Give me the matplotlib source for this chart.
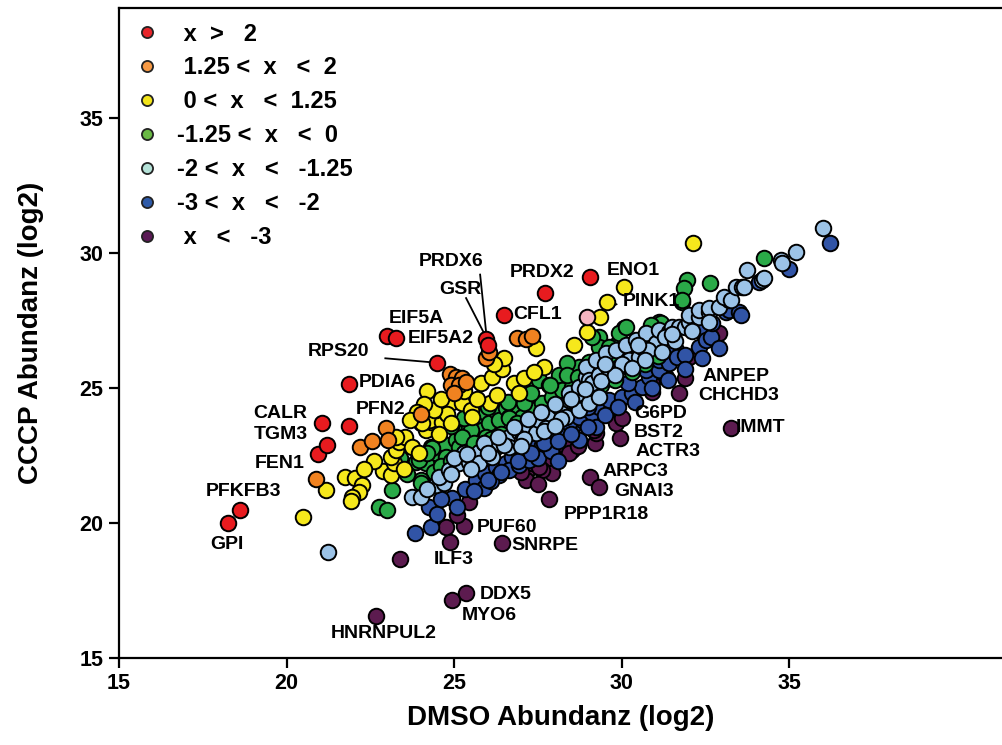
import matplotlib
matplotlib.use("Agg")
import matplotlib.pyplot as plt
from matplotlib.lines import Line2D

plt.rcParams['font.family'] = ['Liberation Sans', 'DejaVu Sans']
plt.rcParams['font.weight'] = 'bold'

# ---------------- data (DMSO log2, CCCP log2) ----------------
red_x = [18.25, 18.6, 20.95, 21.2, 21.05, 21.87, 21.87, 23.0, 23.26, 24.49, 25.95, 26.01, 26.49, 27.72, 29.05]
red_y = [20.0, 20.5, 22.55, 22.9, 23.7, 23.6, 25.15, 26.93, 26.85, 25.93, 26.81, 26.6, 27.7, 28.53, 29.12]

pink_x = [28.97]
pink_y = [27.64]

orange_x = [20.87, 22.19, 22.56, 22.96, 23.04, 24.01, 25.96, 26.04, 26.88, 27.15, 27.33,
            24.87, 25.05, 25.23, 24.9, 25.15, 25.35, 25.0]
orange_y = [21.63, 22.83, 23.05, 23.53, 23.07, 24.03, 26.1, 26.34, 26.85, 26.81, 26.93,
            25.52, 25.42, 25.36, 25.11, 25.11, 25.23, 24.8]

yellow_x = [20.49, 21.17, 21.75, 22.04, 22.24, 22.16, 21.96, 21.92, 22.89, 23.11, 23.21, 23.13,
            23.26, 23.36, 23.54, 23.76, 24.01, 24.16, 24.3, 23.96, 23.28, 24.27, 24.05, 24.63,
            24.95, 25.25, 25.5, 25.55, 25.8, 26.14, 26.44, 26.07, 26.29, 26.79, 26.94, 27.44,
            28.58, 27.69, 28.98, 29.36, 29.57, 30.07, 32.13, 27.09, 24.45, 24.8,
            24.4, 24.6, 24.2, 24.55, 24.9, 25.3, 25.7, 24.1, 23.9, 23.7, 22.6, 22.3, 23.5,
            26.5, 27.4, 26.2]
yellow_y = [20.23, 21.22, 21.71, 21.66, 21.41, 21.16, 20.97, 20.81, 21.94, 21.78, 22.21, 22.46,
            22.7, 23.01, 23.2, 22.83, 23.69, 23.44, 23.75, 22.58, 23.2, 23.81, 23.69, 23.75,
            24.49, 24.43, 24.19, 23.94, 25.2, 25.42, 25.69, 24.43, 24.74, 25.17, 24.8, 26.47,
            26.59, 25.79, 27.09, 27.64, 28.2, 28.75, 30.38, 25.36, 24.2, 24.05,
            24.2, 24.6, 24.9, 23.3, 23.7, 24.9, 24.6, 24.4, 24.1, 23.8, 22.3, 22.0, 22.0,
            26.1, 25.6, 25.9]

green_x = [23.14, 22.76, 23.01, 23.86, 24.16, 24.3, 24.4, 23.96, 24.45, 24.55, 24.75, 24.35,
           24.75, 25.05, 25.15, 25.25, 25.45, 25.55, 25.75, 25.85, 25.95, 26.04, 26.24, 26.34,
           26.54, 26.64, 26.74, 26.94, 26.94, 27.14, 27.24, 27.34, 27.34, 27.54, 27.64, 27.84,
           27.94, 28.13, 28.23, 28.43, 28.53, 28.73, 28.83, 29.03, 29.18, 25.75, 26.24, 26.74,
           27.04, 27.09, 25.5, 25.25, 25.95, 26.64, 26.89, 28.38, 28.38, 28.93, 27.88, 29.33,
           29.33, 29.83, 30.07, 30.87, 31.12, 29.93, 30.13, 29.13, 29.63, 31.81, 31.96, 31.87,
           31.8, 32.63, 34.25, 31.17, 30.87, 24.0, 24.6, 25.6,
           24.9, 25.3, 25.6, 26.1, 26.4, 26.9, 27.2, 27.6, 28.0, 28.4, 28.9, 29.4, 29.8, 30.3,
           30.7, 31.1, 29.6, 30.2, 30.6, 29.9, 28.7, 27.3, 26.6, 26.0, 25.3, 24.9, 24.2, 23.6,
           23.4, 24.0]
green_y = [21.22, 20.6, 20.48, 22.27, 22.21, 22.83, 21.9, 22.33, 22.58, 22.95, 22.89, 22.77,
           22.46, 23.07, 22.83, 23.32, 23.51, 23.2, 23.81, 23.44, 24.06, 23.69, 24.13, 23.81,
           24.25, 23.94, 24.43, 24.12, 24.86, 24.68, 25.05, 24.49, 24.19, 25.3, 24.43, 25.11,
           24.68, 25.48, 24.93, 25.67, 25.05, 25.79, 25.3, 25.97, 25.67, 22.7, 22.83, 22.95,
           23.94, 24.43, 23.44, 23.2, 23.2, 23.88, 23.69, 25.91, 25.48, 25.6, 25.11, 26.9,
           26.53, 26.59, 27.21, 27.15, 27.46, 27.03, 27.27, 26.9, 26.53, 28.2, 29.0, 28.69,
           28.26, 28.88, 29.8, 27.4, 27.33, 21.6, 22.1, 22.4,
           22.3, 22.6, 22.95, 23.1, 23.3, 23.5, 23.75, 24.0, 24.25, 24.5, 24.8, 25.1, 25.3, 25.6,
           25.9, 26.2, 25.6, 26.1, 26.5, 26.2, 25.4, 24.8, 24.5, 24.3, 23.9, 23.6, 22.6, 21.8,
           22.4, 21.5]

lightblue_x = [21.25, 23.76, 24.0, 24.45, 24.7, 24.55, 24.85, 25.15, 25.45, 25.75, 25.75, 26.04,
               26.14, 26.34, 26.64, 26.64, 26.94, 27.04, 27.24, 27.44, 27.54, 27.74, 27.84, 28.13,
               28.33, 28.43, 28.43, 28.73, 28.73, 28.73, 28.93, 28.93, 29.03, 29.03, 29.13, 29.23,
               29.33, 29.33, 29.53, 29.63, 29.83, 29.93, 30.13, 30.22, 30.42, 30.52, 30.62, 30.72,
               31.02, 31.12, 31.42, 31.52, 31.72, 31.91, 32.01, 32.01, 32.31, 32.31, 32.61, 32.61,
               32.91, 33.21, 33.06, 33.26, 33.41, 33.61, 33.66, 33.76, 34.2, 34.25, 34.75, 34.8,
               35.22, 36.01, 25.3, 25.9, 26.5, 27.1, 27.7, 28.2, 30.0, 30.8, 31.3,
               25.0, 25.4, 25.9, 26.3, 26.8, 27.2, 27.6, 28.0, 28.5, 28.9, 29.4, 29.8, 30.3, 30.7,
               31.2, 31.6, 32.1, 32.6, 26.0, 27.0, 28.0, 29.5, 30.5, 31.5, 24.2, 24.9, 25.5]
lightblue_y = [18.94, 20.97, 20.97, 21.41, 21.47, 21.71, 21.96, 22.21, 22.27, 22.64, 22.21, 22.77,
               22.46, 22.95, 23.2, 22.83, 23.38, 23.07, 23.57, 23.32, 23.81, 23.51, 24.06, 24.31,
               23.94, 24.56, 24.8, 24.8, 25.05, 24.19, 25.42, 25.79, 25.3, 24.43, 25.17, 26.04,
               25.48, 24.68, 26.29, 25.67, 26.41, 25.79, 26.59, 26.04, 26.78, 26.16, 26.53, 27.02,
               26.66, 27.15, 27.09, 27.27, 27.27, 27.27, 27.46, 27.7, 27.64, 27.89, 27.83, 27.95,
               28.01, 28.26, 28.38, 28.26, 28.73, 28.73, 28.75, 29.37, 29.0, 29.06, 29.74, 29.62,
               30.05, 30.91, 22.6, 22.95, 22.9, 23.1, 23.4, 23.85, 25.9, 26.4, 26.9,
               22.4, 22.55, 22.95, 23.2, 23.55, 23.85, 24.1, 24.4, 24.6, 24.95, 25.25, 25.5, 25.75,
               26.05, 26.35, 26.75, 27.1, 27.45, 22.6, 22.85, 23.6, 25.9, 26.6, 27.0, 21.25, 21.8,
               22.0]

blue_x = [23.84, 24.25, 24.3, 24.49, 24.93, 25.33, 25.65, 25.94, 26.24, 26.54, 26.74, 27.04,
          27.34, 27.64, 27.94, 28.23, 28.53, 28.73, 28.83, 28.43, 28.73, 29.03, 29.13, 29.23,
          29.33, 29.23, 29.63, 30.02, 30.32, 30.62, 30.82, 30.72, 31.12, 31.12, 31.42, 31.62,
          31.66, 31.91, 32.31, 32.31, 32.51, 32.66, 32.71, 33.11, 33.21, 33.51, 33.56, 34.1,
          35.0, 36.21, 26.64, 26.94, 27.24, 26.34, 26.79, 25.9, 26.1, 27.5, 27.9, 28.1,
          25.6, 26.0, 26.4, 26.9, 27.3, 27.7, 28.1, 28.5, 29.0, 29.5, 29.9, 30.4, 30.9, 31.4,
          31.9, 32.4, 32.9, 27.0, 28.0, 29.0, 30.2, 25.1, 24.6]
blue_y = [19.64, 20.6, 19.86, 20.33, 20.93, 21.26, 21.59, 21.84, 22.09, 22.21, 22.46, 22.58,
          22.77, 22.89, 23.2, 23.32, 23.51, 23.07, 23.81, 23.69, 23.94, 24.19, 24.06, 23.57,
          24.31, 24.68, 24.56, 24.68, 24.8, 25.05, 25.42, 25.67, 25.67, 26.04, 25.91, 26.41,
          26.16, 26.22, 26.53, 27.15, 26.78, 26.9, 27.4, 27.83, 27.89, 27.83, 27.7, 28.94,
          29.4, 30.38, 21.96, 22.15, 22.33, 21.78, 22.89, 21.3, 21.55, 22.4, 22.65, 22.3,
          21.2, 21.6, 21.9, 22.3, 22.6, 22.95, 23.05, 23.3, 23.55, 24.0, 24.3, 24.5, 25.0, 25.3,
          25.7, 26.1, 26.5, 23.0, 23.6, 24.3, 25.2, 20.6, 20.9]

purple_x = [22.67, 24.94, 25.36, 24.88, 26.42, 25.3, 24.75, 25.08, 23.38, 27.84, 29.05, 29.34,
            25.45, 27.14, 27.33, 27.88, 28.33, 28.52, 28.13, 27.93, 27.63, 27.54, 27.14, 29.21,
            29.95, 29.23, 29.18, 29.83, 30.02, 29.72, 30.91, 30.91, 31.32, 31.91, 31.72, 33.26,
            32.01, 32.91, 28.33, 28.43, 27.5, 28.7, 27.0]
purple_y = [16.57, 17.15, 17.41, 19.3, 19.25, 19.89, 19.86, 20.3, 18.68, 20.89, 21.69, 21.33,
            20.78, 21.85, 22.22, 22.41, 22.64, 22.7, 22.96, 21.85, 21.96, 22.09, 21.59, 22.95,
            23.14, 23.34, 23.44, 23.69, 23.88, 24.31, 25.23, 24.86, 25.42, 25.36, 24.8, 23.52,
            26.16, 27.03, 22.83, 22.58, 21.45, 22.85, 21.9]

legend_labels = [" x  >   2", " 1.25 <  x   <  2", " 0 <  x   <  1.25", "-1.25 <  x   <  0",
                 "-2 <  x   <   -1.25", "-3 <  x   <   -2", " x   <   -3"]

# gene labels and text positions
gene_names = ["PRDX6", "GSR", "PRDX2", "ENO1", "PINK1", "CFL1", "EIF5A", "EIF5A2", "RPS20",
              "PDIA6", "PFN2", "CALR", "TGM3", "FEN1", "PFKFB3", "GPI", "ANPEP", "CHCHD3",
              "IMMT", "G6PD", "BST2", "ACTR3", "ARPC3", "GNAI3", "PPP1R18", "PUF60", "SNRPE",
              "ILF3", "DDX5", "MYO6", "HNRNPUL2"]
gene_text_x = [24.91, 25.18, 27.63, 30.34, 30.9, 27.5, 23.87, 24.6, 21.54, 23.02, 22.8, 19.81,
               19.84, 19.81, 18.73, 18.22, 33.42, 33.51, 34.16, 31.18, 31.12, 31.39, 30.43, 30.67,
               29.54, 26.58, 27.72, 25.0, 26.55, 26.04, 22.91]
gene_text_y = [29.67, 28.63, 29.26, 29.37, 28.19, 27.74, 27.59, 26.85, 26.37, 25.19, 24.19, 24.04,
               23.26, 22.22, 21.15, 19.22, 25.44, 24.74, 23.52, 24.07, 23.37, 22.63, 21.89, 21.15,
               20.33, 19.85, 19.15, 18.63, 17.37, 16.59, 15.89]

# ---------------- figure ----------------
W, H = 1002, 745
fig = plt.figure(figsize=(W / 100, H / 100), dpi=100)
ax = fig.add_axes([119 / W, (H - 658) / H, (W - 119) / W, 650 / H])
ax.set_xlim(15, 15 + (W - 119) / 33.5)
ax.set_ylim(15, 15 + 650 / 27)

edge = dict(edgecolor='black', linewidths=1.4, s=125)
ax.scatter(purple_x, purple_y, c='#5c1b4f', zorder=3, **edge)
ax.scatter(blue_x, blue_y, c='#3154a6', zorder=3, **edge)
ax.scatter(green_x, green_y, c='#2aaa48', zorder=3, **edge)
ax.scatter(lightblue_x, lightblue_y, c='#9cc3e7', zorder=3, **edge)
ax.scatter(yellow_x, yellow_y, c='#f6e81c', zorder=3, **edge)
ax.scatter(orange_x, orange_y, c='#f08220', zorder=3, **edge)
ax.scatter(red_x, red_y, c='#e81b1f', zorder=4, **edge)
ax.scatter(pink_x, pink_y, c='#f4b5c0', zorder=4, **edge)

for name, tx, ty in zip(gene_names, gene_text_x, gene_text_y):
    ax.text(tx, ty, name, fontsize=14, fontweight='bold', ha='center', va='center', zorder=5)

# connector lines
ax.plot([25.78, 25.96], [29.2, 27.05], color='black', lw=1.3, zorder=2)   # PRDX6
ax.plot([25.36, 25.93], [28.33, 26.95], color='black', lw=1.3, zorder=2)  # GSR
ax.plot([22.95, 24.35], [26.1, 25.95], color='black', lw=1.3, zorder=2)   # RPS20
ax.plot([29.1, 29.85], [27.7, 28.1], color='black', lw=1.3, zorder=2)     # PINK1

# axes styling
ax.spines['right'].set_visible(False)
for s in ['left', 'bottom', 'top']:
    ax.spines[s].set_linewidth(1.6)
ax.set_xticks([15, 20, 25, 30, 35])
ax.set_yticks([15, 20, 25, 30, 35])
ax.tick_params(direction='out', length=7, width=1.6, labelsize=15.5, pad=4)
for lab in ax.get_xticklabels() + ax.get_yticklabels():
    lab.set_fontweight('bold')
ax.set_xlabel('DMSO Abundanz (log2)', fontsize=20, fontweight='bold', labelpad=8)
ax.set_ylabel('CCCP Abundanz (log2)', fontsize=20, fontweight='bold', labelpad=26)

leg_colors = ['#e8262b', '#f79a45', '#f2e41a', '#6ab945', '#b5e2d8', '#2e5aa8', '#5a1a55']
handles = [Line2D([0], [0], marker='o', linestyle='none', markersize=8,
                  markerfacecolor=c, markeredgecolor='#222222', markeredgewidth=1.3)
           for c in leg_colors]
leg = ax.legend(handles, legend_labels, loc='upper left', bbox_to_anchor=(0.0, 1.0),
                frameon=False, prop={'size': 17, 'weight': 'bold'},
                handletextpad=0.72, labelspacing=0.46, borderaxespad=0.22, handlelength=1.1)

fig.savefig('out.png', dpi=100)
